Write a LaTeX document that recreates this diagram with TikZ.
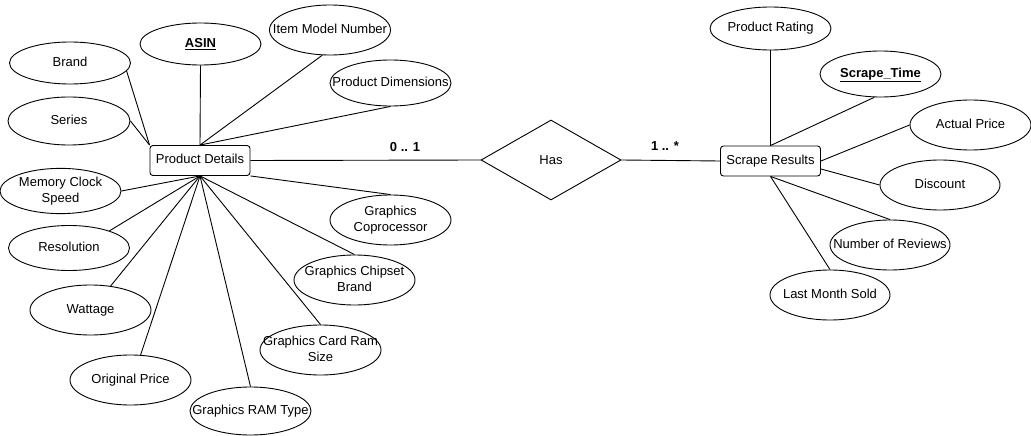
\documentclass[tikz,border=0pt]{standalone}
\usepackage{fontspec}
\setmainfont{Liberation Sans}
\usetikzlibrary{shapes.geometric}
\newcommand{\ctext}[1]{\makebox[0pt][c]{\begin{tabular}{@{}c@{}}#1\end{tabular}}}
\begin{document}
\begin{tikzpicture}[x=1pt,y=-1pt,
  every node/.style={font=\fontsize{13}{16}\selectfont},
  attr/.style={ellipse, draw, line width=0.9pt, inner sep=0pt, align=center, minimum width=121pt, minimum height=50pt},
  entity/.style={rectangle, rounded corners=3pt, draw, line width=0.9pt, minimum width=100pt, minimum height=30pt, inner sep=0pt},
  rel/.style={diamond, draw, line width=0.9pt, minimum width=140pt, minimum height=80pt, inner sep=0pt},
  conn/.style={draw, line width=0.9pt},
  card/.style={font=\fontsize{13}{16}\selectfont\bfseries}]
\useasboundingbox (0,0) rectangle (1031,436);
% entities
\node[entity] (pd) at (200,160.5) {\ctext{Product Details}};
\node[entity] (sr) at (770.5,161) {\ctext{Scrape Results}};
\node[rel] (has) at (551,160) {Has};
% Product Details attributes
\node[attr, minimum height=42pt] (brand) at (70,63) {\ctext{Brand}};
\node[attr, minimum height=48pt, minimum width=122pt] (series) at (69,121) {\ctext{Series}};
\node[attr, minimum height=42pt] (asin) at (200.5,44) {\ctext{\underline{\textbf{ASIN}}}};
\node[attr] (imn) at (330,30) {\ctext{Item Model Number}};
\node[attr, minimum height=46pt] (pdim) at (390.5,83) {\ctext{Product Dimensions}};
\node[attr, minimum height=45pt] (mcs) at (60.5,191) {\ctext{Memory Clock\\Speed}};
\node[attr, minimum height=45pt] (res) at (69,248) {\ctext{Resolution}};
\node[attr] (watt) at (90.5,310) {\ctext{Wattage}};
\node[attr] (oprice) at (130.5,380) {\ctext{Original Price}};
\node[attr, minimum height=48pt] (ramtype) at (250.5,411) {\ctext{Graphics RAM Type}};
\node[attr] (cardram) at (320.5,350) {\ctext{Graphics Card Ram\\Size}};
\node[attr] (chipset) at (354.5,280) {\ctext{Graphics Chipset\\Brand}};
\node[attr] (cop) at (390.5,220) {\ctext{Graphics\\Coprocessor}};
% Scrape Results attributes
\node[attr, minimum height=43pt] (prating) at (770.5,28.5) {\ctext{Product Rating}};
\node[attr, minimum height=46pt] (stime) at (880.5,74) {\ctext{\underline{\textbf{Scrape\_Time}}}};
\node[attr] (aprice) at (970.5,125) {\ctext{Actual Price}};
\node[attr, minimum width=120pt] (disc) at (940,185) {\ctext{Discount}};
\node[attr, minimum width=120pt] (nrev) at (890,245) {\ctext{Number of Reviews}};
\node[attr, minimum width=120pt] (lms) at (830,295) {\ctext{Last Month Sold}};
% connectors Product Details
\draw[conn] (brand.-8) -- (pd.north west);
\draw[conn] (series.east) -- (pd.north west);
\draw[conn] (asin.south) -- (pd.north);
\draw[conn] (imn.-107) -- (pd.north);
\draw[conn] (pdim.south) -- (pd.north);
\draw[conn] (mcs.east) -- (pd.south);
\draw[conn] (res.23) -- (pd.south);
\draw[conn] (watt.50) -- (pd.south);
\draw[conn] (oprice.68) -- (pd.south);
\draw[conn] (ramtype.north) -- (pd.south);
\draw[conn] (cardram.north) -- (pd.south);
\draw[conn] (chipset.north) -- (pd.south);
\draw[conn] (pd.south east) -- (cop.north);
% relationship
\draw[conn] (pd.east) -- (has.west);
\draw[conn] (has.east) -- (sr.west);
\node[card] (c1) at (405,147) {0 .. 1};
\node[card] (c2) at (665,146) {1 .. *};
% connectors Scrape Results
\draw[conn] (prating.south) -- (sr.north);
\draw[conn] (stime.-105) -- (sr.north);
\draw[conn] (sr.east) -- (aprice.west);
\draw[conn] (sr.-9) -- (disc.west);
\draw[conn] (sr.south) -- (nrev.north);
\draw[conn] (sr.south) -- (lms.north);
\end{tikzpicture}
\end{document}
